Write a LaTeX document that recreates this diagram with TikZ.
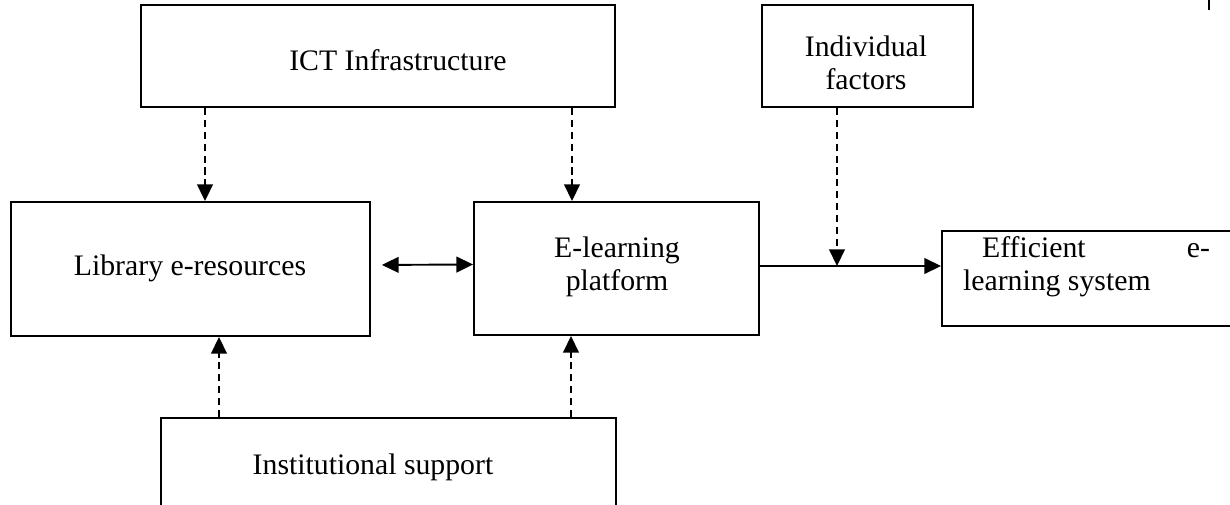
\documentclass[tikz,border=0pt]{standalone}
\usepackage{fontspec}
\setmainfont{Liberation Serif}
\usetikzlibrary{arrows.meta}
\tikzset{b/.style={draw,line width=0.8pt,inner sep=0pt}}
\tikzset{t/.style={align=center,font=\fontsize{12.5}{14}\selectfont}}
\tikzset{d/.style={dash pattern=on 3pt off 2pt}}
\tikzset{>={Triangle[length=7pt,width=6.6pt]}}

\begin{document}
\begin{tikzpicture}[x=0.42pt,y=-0.42pt,line width=0.8pt]
          \clip (0,0) rectangle (1230,504);
          \node [b,minimum width=199.1pt,minimum height=42.8pt] (ict) at (378,56) {};
          \node [b,minimum width=88.6pt,minimum height=42.8pt] (ind) at (867.5,56) {};
          \node [b,minimum width=150.8pt,minimum height=56.3pt] (lib) at (190.5,269) {};
          \node [b,minimum width=119.7pt,minimum height=55.9pt] (elp) at (616.5,268.5) {};
          \node [b,minimum width=129.4pt,minimum height=39.9pt] (eff) at (1096,278.5) {};
          \node [b,minimum width=191.1pt,minimum height=42.8pt] (inst) at (388.5,469) {};
          \begin{scope}[t]
            \node (ict-t) at (398,60) {ICT Infrastructure};
            \node (ind-t) at (866,63) {Individual\\factors};
            \node (lib-t) at (190,268) {Library e-resources};
            \node (elp-t) at (617,267) {E-learning\\platform};
            \node [inner sep=0pt,text width=103.7pt,align=justify] (eff-t) at (1086.5,267)
              {\hspace*{8pt}Efficient e-\linebreak learning system};
            \node (inst-t) at (373,467) {Institutional support};
          \end{scope}
          \coordinate (m) at (837,266);
          \draw [->,d] (ict.south -| 205,0) -- (lib.north -| 205,0);
          \draw [->,d] (ict.south -| 572,0) -- (elp.north -| 572,0);
          \draw [->,d] (inst.north -| 219,0) -- (lib.south -| 219,0);
          \draw [->,d] (inst.north -| 571,0) -- (elp.south -| 571,0);
          \draw [<->] ([xshift=4.6pt,yshift=1.7pt]lib.east) -- ([yshift=1.7pt]elp.west);
          \draw [->] (elp.east |- m) -- (eff.west |- m);
          \draw [->,d] (ind.south -| m) -- (m);
          \draw [line width=0.8pt] (1209,0) -- (1209,10);
        \end{tikzpicture}
\end{document}
